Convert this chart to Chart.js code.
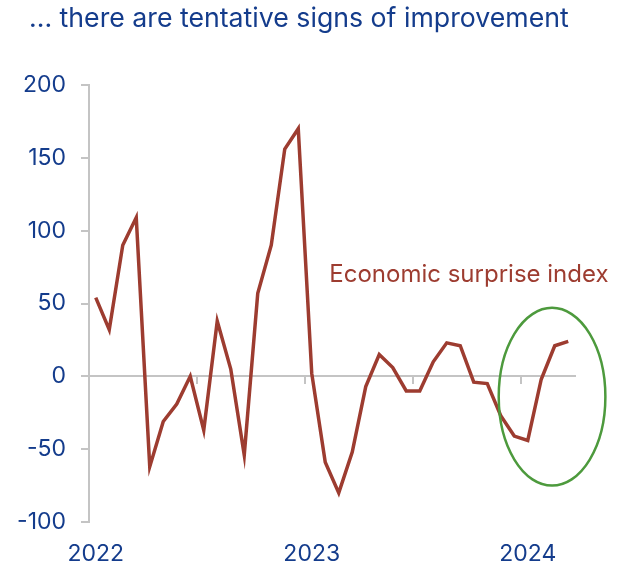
<!DOCTYPE html>
<html>
<head>
<meta charset="utf-8">
<script src="https://cdn.jsdelivr.net/npm/chart.js@4.4.1/dist/chart.umd.min.js"></script>
<style>
  html, body { margin: 0; padding: 0; background: #fff; }
  #wrap { position: relative; width: 617px; height: 570px; }
</style>
</head>
<body>
<div id="wrap"><canvas id="chart"></canvas></div>
<script>
// economic surprise index, one value per period
const surpriseIndex = [54, 32, 90, 109, -62, -31, -19, 0, -37, 38, 5, -54, 57, 90, 156, 170,
                       2, -59, -80, -52, -7, 15, 6, -10, -10, 10, 23, 21, -4, -5, -27, -41,
                       -44, -2, 21, 24];
const yearLabels = ['2022', '2023', '2024'];
const pointsPerYear = 16;
const yTicks = [-100, -50, 0, 50, 100, 150, 200];
const titleText = '... there are tentative signs of improvement';
const seriesName = 'Economic surprise index';

const BLUE = '#143c8c';
const RED = '#9d3c30';
const GREEN = '#4d9a3d';
const GREY = '#c4c4c4';

const categories = surpriseIndex.map((_, i) => i % pointsPerYear === 0 ? yearLabels[i / pointsPerYear] : '');

Chart.defaults.font.family = 'Inter';

const overlay = {
  id: 'overlay',
  afterDatasetsDraw(chart) {
    const { ctx, scales: { x, y } } = chart;
    ctx.save();
    ctx.textAlign = 'left';
    ctx.textBaseline = 'alphabetic';

    // series label
    ctx.font = '24px Inter';
    ctx.fillStyle = RED;
    ctx.fillText(seriesName, x.getPixelForValue(17.3), y.getPixelForValue(65));

    // highlight ring round the latest readings
    const cx = x.getPixelForValue(33.8), cy = y.getPixelForValue(-14);
    const rx = x.getPixelForValue(33.8 + 3.95) - cx;
    const ry = y.getPixelForValue(-14) - y.getPixelForValue(47);
    ctx.beginPath();
    ctx.ellipse(cx, cy, rx, ry, 0, 0, Math.PI * 2);
    ctx.strokeStyle = GREEN;
    ctx.lineWidth = 2.5;
    ctx.stroke();

    // title
    ctx.font = '26.7px Inter';
    ctx.fillStyle = BLUE;
    ctx.fillText(titleText, 29, 27);
    ctx.restore();
  }
};

new Chart(document.getElementById('chart'), {
  type: 'line',
  data: {
    labels: categories,
    datasets: [{
      label: seriesName,
      data: surpriseIndex,
      borderColor: RED,
      borderWidth: 3.5,
      pointRadius: 0,
      tension: 0,
      xAxisID: 'x',
      yAxisID: 'y'
    }]
  },
  options: {
    responsive: true,
    maintainAspectRatio: false,
    animation: false,
    layout: { padding: { top: 85, right: 42, bottom: 0, left: 0 } },
    plugins: { legend: { display: false }, tooltip: { enabled: false } },
    scales: {
      x: {
        type: 'category',
        offset: true,
        grid: { display: false, drawTicks: false },
        border: { display: false },
        ticks: { autoSkip: false, maxRotation: 0, color: BLUE, font: { size: 23 }, padding: 18 },
        afterFit: s => { s.height = 48; }
      },
      x2: {
        type: 'category',
        position: { y: 0 },
        offset: true,
        grid: {
          offset: true,
          drawOnChartArea: false,
          tickLength: 7,
          lineWidth: 2,
          color: c => c.index % 8 === 0 ? GREY : 'rgba(0,0,0,0)'
        },
        border: { display: true, color: GREY, width: 2 },
        ticks: { display: false, autoSkip: false }
      },
      y: {
        min: -100,
        max: 200,
        afterBuildTicks: s => { s.ticks = yTicks.map(v => ({ value: v })); },
        grid: { drawOnChartArea: false, tickLength: 8, color: GREY, lineWidth: 2 },
        border: { color: GREY, width: 2 },
        ticks: { color: BLUE, font: { size: 23 }, padding: 15 },
        afterFit: s => { s.width = 89; }
      }
    }
  },
  plugins: [overlay]
});
</script>
</body>
</html>
